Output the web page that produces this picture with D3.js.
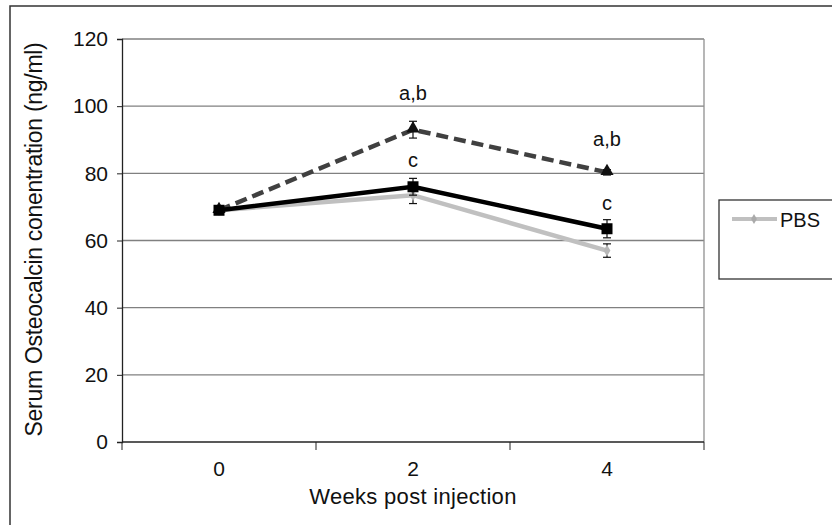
<!DOCTYPE html>
<html>
<head>
<meta charset="utf-8">
<script src="https://cdn.jsdelivr.net/npm/d3@7"></script>
<style>
  body { margin: 0; background: #fff; }
  text { font-family: "Liberation Sans", Arial, sans-serif; }
</style>
</head>
<body>
<div id="chart"></div>
<script>
const weeks = ['0', '2', '4'];
const pbs = [69, 73.5, 57];
const pbsErr = [1, 2.5, 2];
const solid = [69, 76, 63.5];
const solidErr = [1, 2.5, 2.7];
const dashed = [69, 93, 80.3];
const dashedErr = [0.8, 2.5, 0.8];
const yTicks = [0, 20, 40, 60, 80, 100, 120];
const labels2 = ['a,b', 'c'];
const labels4 = ['a,b', 'c'];

const W = 832, H = 525;
const MARGIN = { TOP: 39, LEFT: 122, RIGHT: 128, BOTTOM: 83 };
const width = W - MARGIN.LEFT - MARGIN.RIGHT;
const height = H - MARGIN.TOP - MARGIN.BOTTOM;

const svg = d3.select('#chart').append('svg')
    .attr('width', W)
    .attr('height', H);

// outer frame
svg.append('path')
    .attr('d', `M10,${H + 5} L10,6 L${W + 5},6`)
    .attr('fill', 'none')
    .attr('stroke', '#333')
    .attr('stroke-width', 1.5);

const g = svg.append('g')
    .attr('transform', `translate(${MARGIN.LEFT}, ${MARGIN.TOP})`);

const x = d3.scaleBand().domain(weeks).range([0, width]);
const y = d3.scaleLinear().domain([0, 120]).range([height, 0]);
const cx = d => x(d) + x.bandwidth() / 2;

// gridlines
g.append('g')
    .selectAll('line')
    .data(yTicks.filter(t => t > 0))
    .enter().append('line')
    .attr('x1', 0).attr('x2', width)
    .attr('y1', d => y(d)).attr('y2', d => y(d))
    .attr('stroke', '#808080')
    .attr('stroke-width', 1.3);

// right border
g.append('line')
    .attr('x1', width).attr('x2', width)
    .attr('y1', 0).attr('y2', height)
    .attr('stroke', '#909090')
    .attr('stroke-width', 1.3);

const yAxis = g.append('g')
    .call(d3.axisLeft(y).tickValues(yTicks).tickSize(5).tickPadding(9));
yAxis.select('.domain').attr('stroke', '#222').attr('stroke-width', 1.3);
yAxis.selectAll('.tick line').attr('stroke', '#222');
yAxis.selectAll('text').attr('font-size', 21).attr('fill', '#111')
    .attr('font-family', '"Liberation Sans", Arial, sans-serif');

// x axis with ticks at band boundaries
const xAxisG = g.append('g').attr('transform', `translate(0, ${height})`);
xAxisG.append('line')
    .attr('x1', 0).attr('x2', width)
    .attr('stroke', '#222').attr('stroke-width', 1.6);
const bounds = weeks.map(d => x(d)).concat([width]);
xAxisG.selectAll('.xt').data(bounds).enter().append('line')
    .attr('x1', d => d).attr('x2', d => d)
    .attr('y1', 0).attr('y2', 8)
    .attr('stroke', '#222');
xAxisG.selectAll('.xl').data(weeks).enter().append('text')
    .attr('x', d => cx(d))
    .attr('y', 34)
    .attr('text-anchor', 'middle')
    .attr('font-size', 21)
    .attr('fill', '#111')
    .text(d => d);

svg.append('text')
    .attr('x', MARGIN.LEFT + width / 2)
    .attr('y', 504)
    .attr('text-anchor', 'middle')
    .attr('font-size', 22)
    .attr('fill', '#111')
    .attr('letter-spacing', 0.3)
    .text('Weeks post injection');

svg.append('text')
    .attr('transform', `translate(42, ${MARGIN.TOP + height / 2 - 1}) rotate(-90)`)
    .attr('text-anchor', 'middle')
    .attr('font-size', 23)
    .attr('fill', '#111')
    .attr('letter-spacing', -0.3)
    .text('Serum Osteocalcin conentration (ng/ml)');

const line = d3.line().x((d, i) => cx(weeks[i])).y(d => y(d));

function errorBars(vals, errs) {
    const eb = g.append('g').attr('stroke', '#111').attr('stroke-width', 1.2);
    vals.forEach((v, i) => {
        const xc = cx(weeks[i]);
        eb.append('line').attr('x1', xc).attr('x2', xc)
            .attr('y1', y(v - errs[i])).attr('y2', y(v + errs[i]));
        [v - errs[i], v + errs[i]].forEach(e => {
            eb.append('line').attr('x1', xc - 4).attr('x2', xc + 4)
                .attr('y1', y(e)).attr('y2', y(e));
        });
    });
}

// PBS series (gray)
g.append('path').attr('d', line(pbs))
    .attr('fill', 'none').attr('stroke', '#c0c0c0').attr('stroke-width', 4.5);
errorBars(pbs, pbsErr);
g.selectAll('.pbs').data(pbs).enter().append('path')
    .attr('d', d3.symbol(d3.symbolDiamond, 40)())
    .attr('transform', (d, i) => `translate(${cx(weeks[i])}, ${y(d)})`)
    .attr('fill', '#b8b8b8');

// dashed series
g.append('path').attr('d', line(dashed))
    .attr('fill', 'none').attr('stroke', '#404040').attr('stroke-width', 4.5)
    .attr('stroke-dasharray', '12 6');
errorBars(dashed, dashedErr);
g.selectAll('.tri').data(dashed).enter().append('path')
    .attr('d', d3.symbol(d3.symbolTriangle, 75)())
    .attr('transform', (d, i) => `translate(${cx(weeks[i])}, ${y(d) - 1})`)
    .attr('fill', '#111');

// solid black series
g.append('path').attr('d', line(solid))
    .attr('fill', 'none').attr('stroke', '#000').attr('stroke-width', 4.5);
errorBars(solid, solidErr);
g.selectAll('.sq').data(solid).enter().append('rect')
    .attr('x', (d, i) => cx(weeks[i]) - 5.5)
    .attr('y', d => y(d) - 5.5)
    .attr('width', 11).attr('height', 11)
    .attr('fill', '#000');

// significance labels
const ann = [
    { wk: '2', txt: labels2[0], v: dashed[1] + dashedErr[1], off: 21 },
    { wk: '2', txt: labels2[1], v: solid[1] + solidErr[1], off: 11 },
    { wk: '4', txt: labels4[0], v: dashed[2] + dashedErr[2], off: 24 },
    { wk: '4', txt: labels4[1], v: solid[2] + solidErr[2], off: 10 }
];
g.selectAll('.ann').data(ann).enter().append('text')
    .attr('x', d => cx(d.wk))
    .attr('y', d => y(d.v) - d.off)
    .attr('text-anchor', 'middle')
    .attr('font-size', 20)
    .attr('fill', '#111')
    .text(d => d.txt);

// legend
const lg = svg.append('g').attr('transform', 'translate(719, 200)');
lg.append('rect')
    .attr('width', 130).attr('height', 79)
    .attr('fill', '#fff').attr('stroke', '#333').attr('stroke-width', 1.3);
lg.append('line')
    .attr('x1', 13).attr('x2', 58).attr('y1', 19).attr('y2', 19)
    .attr('stroke', '#c0c0c0').attr('stroke-width', 4);
lg.append('path')
    .attr('d', d3.symbol(d3.symbolDiamond, 30)())
    .attr('transform', 'translate(35, 19)')
    .attr('fill', '#aaa');
lg.append('text')
    .attr('x', 61).attr('y', 27)
    .attr('font-size', 20)
    .attr('fill', '#111')
    .text('PBS');
</script>
</body>
</html>
